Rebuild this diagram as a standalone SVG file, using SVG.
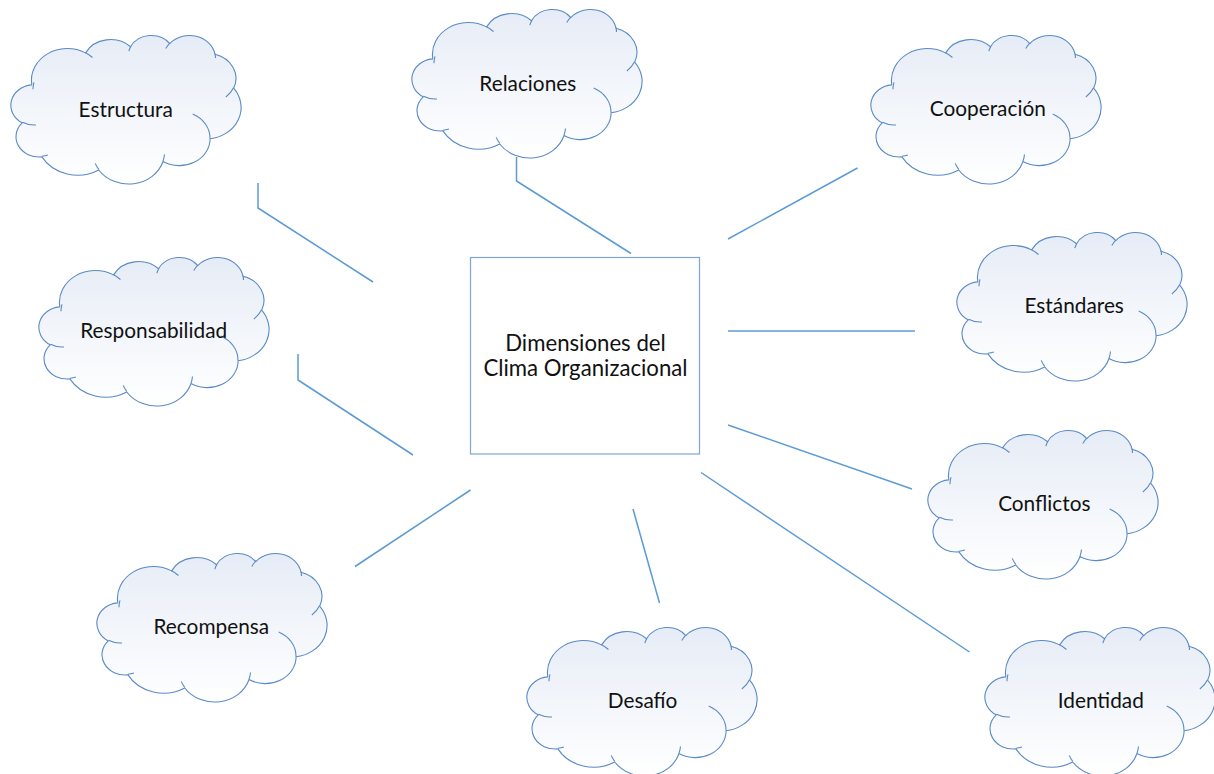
<svg xmlns="http://www.w3.org/2000/svg" xmlns:xlink="http://www.w3.org/1999/xlink" width="1214" height="774" viewBox="0 0 1214 774">
<style>
.cloud{fill:url(#cg);stroke:#5A8AC6;stroke-width:1.1}
.inner{fill:none;stroke:#5A8AC6;stroke-width:1.1}
.lbl{font-family:Lato,"Liberation Sans",sans-serif;font-size:20.8px;fill:#111;text-anchor:middle}
.big{font-size:22.2px}
.conn{fill:none;stroke:#5B9BD5;stroke-width:1.5}
.box{fill:#FFFFFF;stroke:#7EA6DA;stroke-width:1.2}
</style>
<defs>
<linearGradient id="cg" x1="0" y1="0" x2="0" y2="1">
<stop offset="0" stop-color="#E6ECF6"/>
<stop offset="1" stop-color="#FFFFFF"/>
</linearGradient>
<g id="cloudShape">
<path class="cloud" d="M20.76,49.40 A35.95,31.59 0 0 1 74.56,17.88 A28.39,24.98 0 0 1 119.55,11.79 A23.24,20.44 0 0 1 158.83,8.52 A25.86,22.67 0 0 1 204.01,19.16 A28.39,25.00 0 0 1 222.64,53.14 A36.07,31.69 0 0 1 199.14,103.82 A30.80,27.04 0 0 1 152.03,126.54 A35.95,31.68 0 0 1 87.74,134.97 A41.10,36.24 0 0 1 30.90,121.92 A23.21,20.34 0 0 1 11.25,87.82 A23.13,20.44 0 0 1 20.57,49.86 Z"/>
<path class="inner" d="M24.99,89.98 A23.13,20.44 0 0 1 11.50,87.24 M36.89,119.97 A23.21,20.34 0 0 1 30.98,121.28 M87.73,134.37 A35.95,31.68 0 0 1 84.18,128.39 M153.48,119.46 A35.95,31.68 0 0 1 152.06,126.02 M181.71,78.90 A30.80,27.04 0 0 1 199.02,103.43 M222.54,52.78 A28.39,25.00 0 0 1 214.83,61.98 M204.04,18.65 A25.86,22.67 0 0 1 204.45,23.00 M154.81,13.59 A25.86,22.67 0 0 1 158.76,8.05 M117.88,16.23 A23.24,20.44 0 0 1 119.79,11.45 M74.54,17.85 A35.95,31.59 0 0 1 81.46,22.49 M21.97,54.28 A35.95,31.59 0 0 1 22.98,47.37"/>
</g>
</defs>
<g id="connectors">
<polyline class="conn" points="258,183 258,208 373,282"/>
<polyline class="conn" points="516.5,157 516.5,181 631,253.5"/>
<line class="conn" x1="728" y1="239" x2="857.5" y2="168"/>
<line class="conn" x1="728" y1="331" x2="915" y2="331"/>
<line class="conn" x1="728" y1="425" x2="912" y2="489"/>
<line class="conn" x1="701" y1="472.5" x2="969.5" y2="652"/>
<line class="conn" x1="633" y1="509" x2="659.5" y2="603"/>
<line class="conn" x1="470.5" y1="490" x2="355" y2="566.5"/>
<polyline class="conn" points="298,354 298,380 413,455"/>
</g>
<g id="n-center">
<rect class="box" x="470.5" y="257.5" width="229" height="196.5"/>
<text class="lbl big"><tspan x="585.5" y="351">Dimensiones del</tspan><tspan x="585.5" y="376">Clima Organizacional</tspan></text>
</g>
<g id="n-estructura" transform="translate(11,35)">
<use xlink:href="#cloudShape"/>
<text class="lbl" x="114.7" y="82">Estructura</text>
</g>
<g id="n-relaciones" transform="translate(412,9)">
<use xlink:href="#cloudShape"/>
<text class="lbl" x="115.8" y="81.7">Relaciones</text>
</g>
<g id="n-cooperacion" transform="translate(871,35)">
<use xlink:href="#cloudShape"/>
<text class="lbl" x="116.8" y="81">Cooperación</text>
</g>
<g id="n-responsabilidad" transform="translate(39,257)">
<use xlink:href="#cloudShape"/>
<text class="lbl" x="114.7" y="81.3">Responsabilidad</text>
</g>
<g id="n-estandares" transform="translate(957,232)">
<use xlink:href="#cloudShape"/>
<text class="lbl" x="117.2" y="81.3">Estándares</text>
</g>
<g id="n-conflictos" transform="translate(928,430)">
<use xlink:href="#cloudShape"/>
<text class="lbl" x="116.3" y="81">Conflictos</text>
</g>
<g id="n-recompensa" transform="translate(97,553)">
<use xlink:href="#cloudShape"/>
<text class="lbl" x="114.3" y="81">Recompensa</text>
</g>
<g id="n-desafio" transform="translate(527,627)">
<use xlink:href="#cloudShape"/>
<text class="lbl" x="115.5" y="81.3">Desafío</text>
</g>
<g id="n-identidad" transform="translate(985,627)">
<use xlink:href="#cloudShape"/>
<text class="lbl" x="115.8" y="80.7">Identidad</text>
</g>
</svg>
